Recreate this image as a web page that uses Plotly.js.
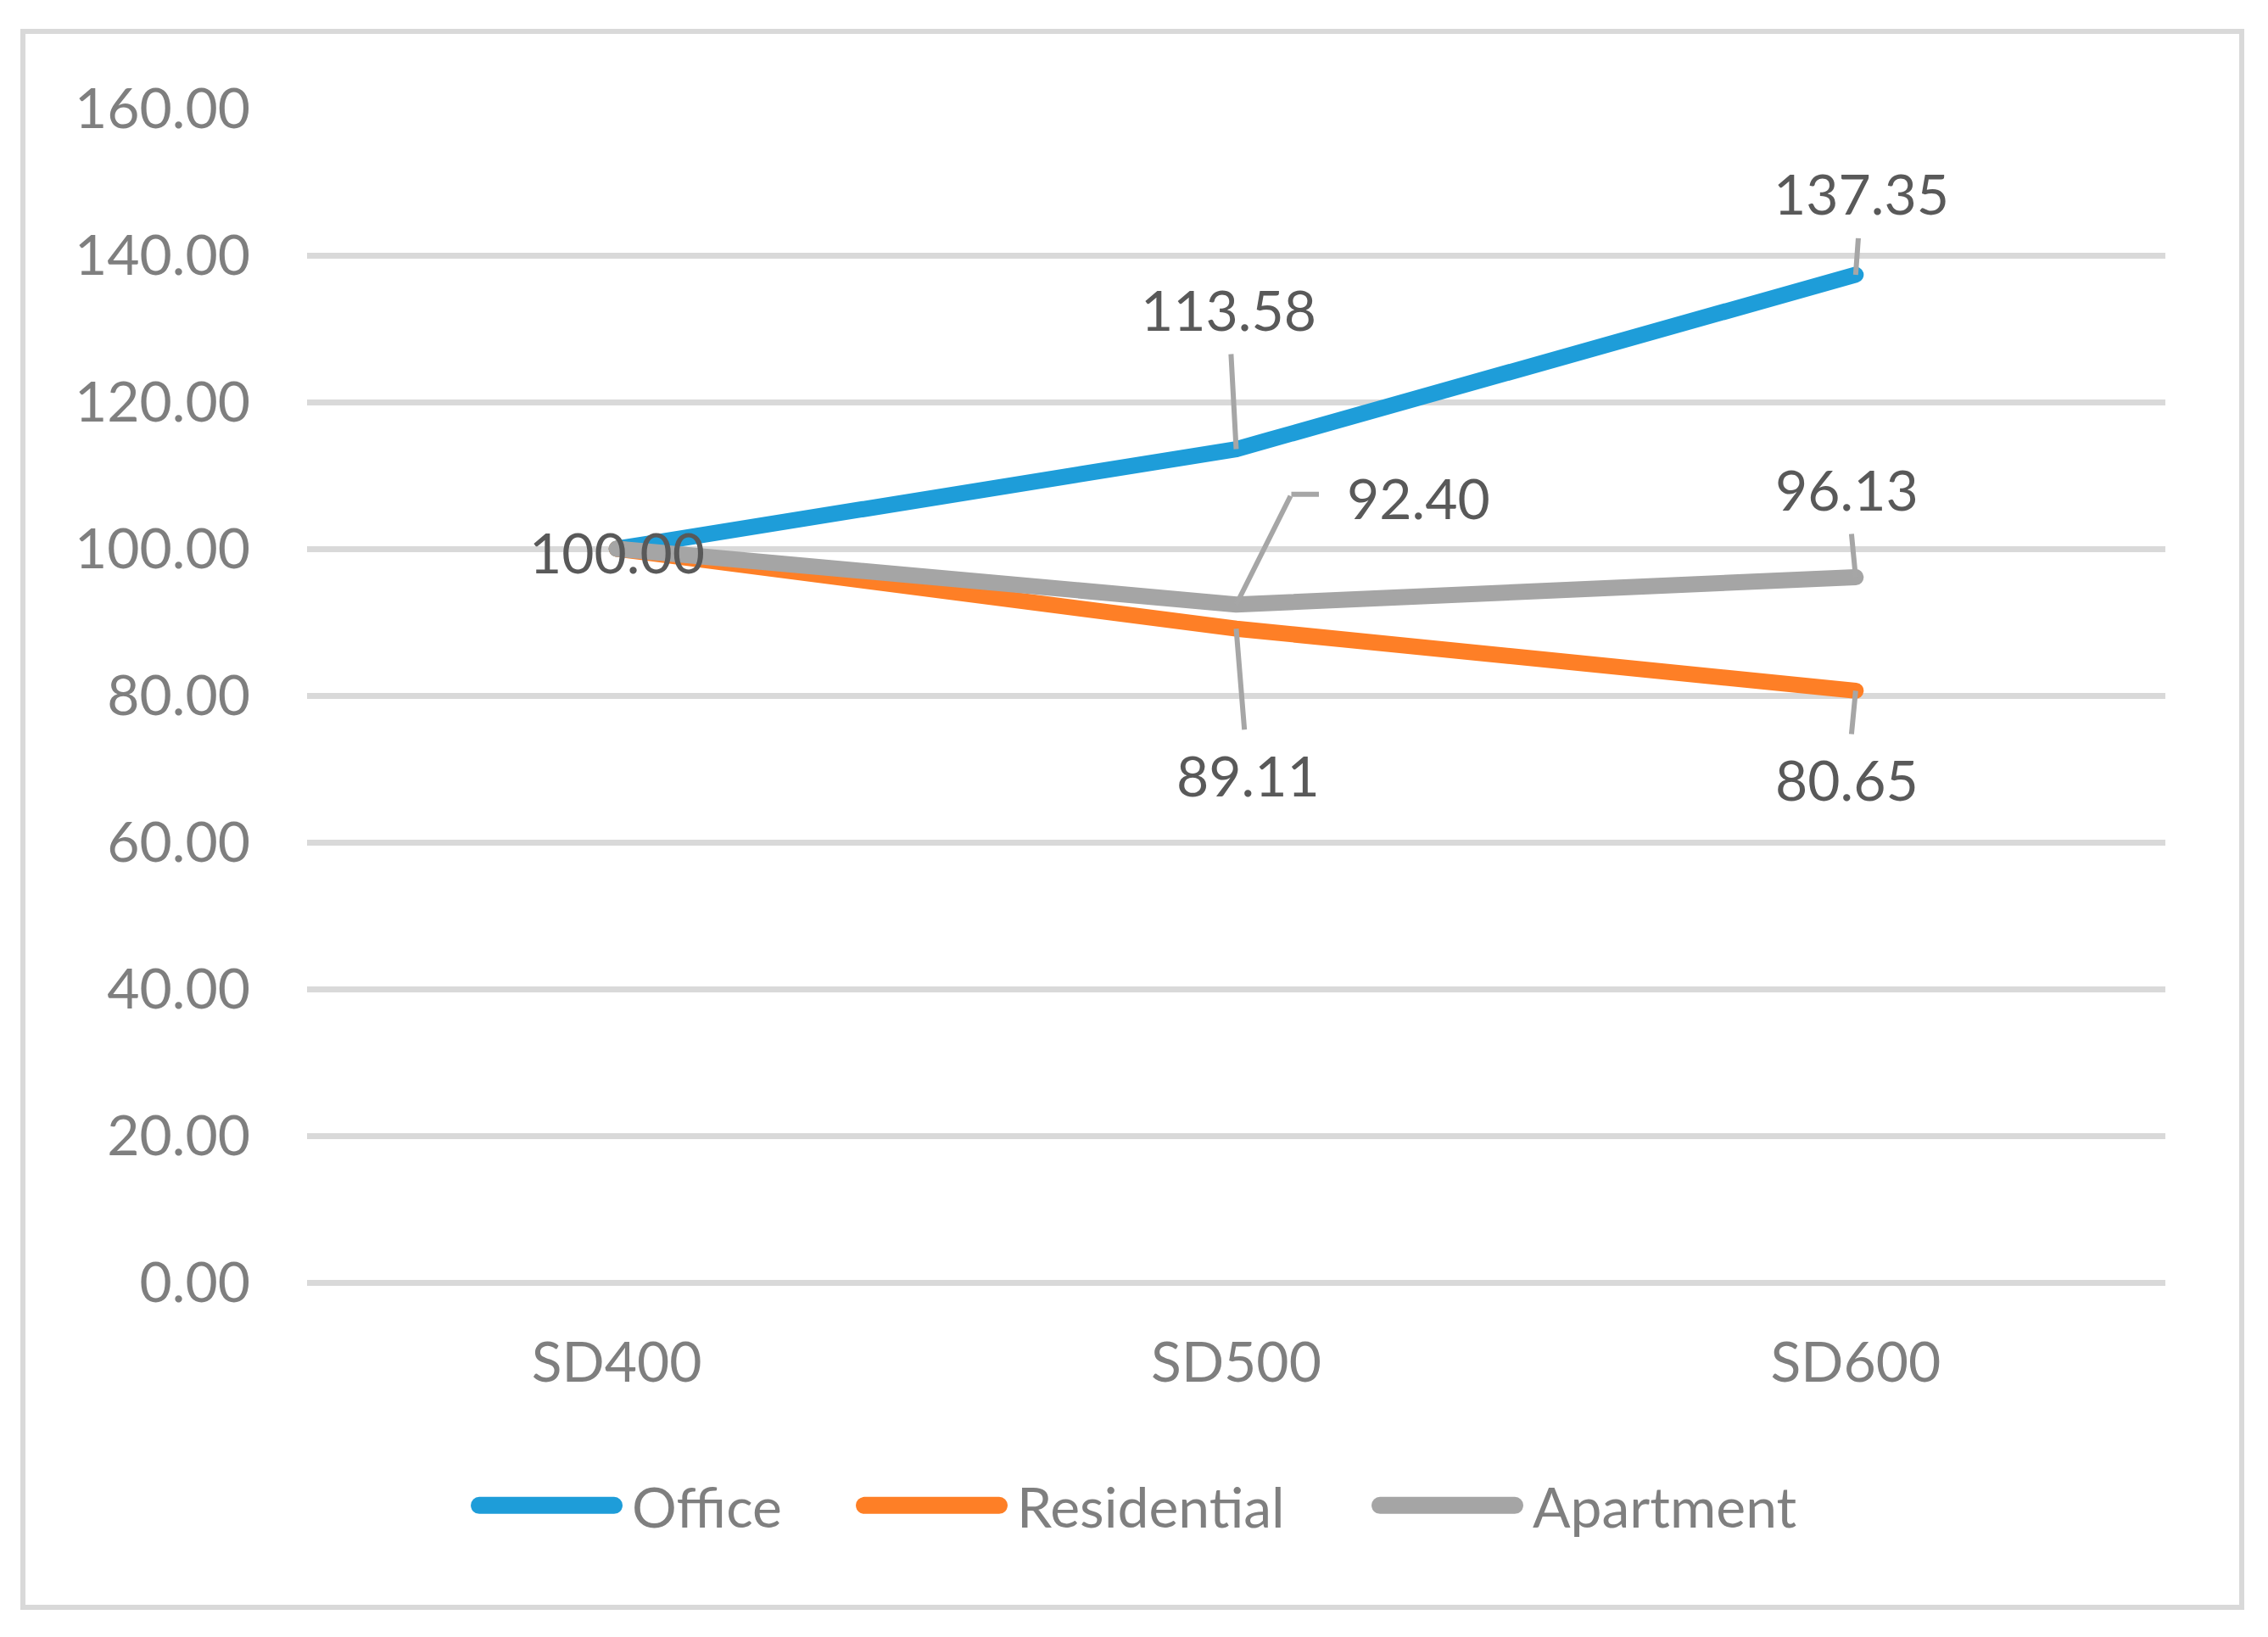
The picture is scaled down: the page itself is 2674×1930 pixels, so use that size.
<!DOCTYPE html>
<html>
<head>
<meta charset="utf-8">
<script src="https://cdn.plot.ly/plotly-3.0.1.min.js"></script>
<style>
  html, body { margin: 0; padding: 0; background: #fff; }
  #chart { width: 2674px; height: 1930px; }
  /* rounded line ends; legend strokes wider than Plotly allows */
  #chart .scatterlayer .js-line { stroke-linecap: round; stroke-linejoin: round; }
  #chart .legendlines path {
    d: path("M10,0h159");
    stroke-width: 20px !important;
    stroke-linecap: round;
  }
</style>
</head>
<body>
<div id="chart"></div>
<script>
// Datos del gráfico
const categories = ['SD400', 'SD500', 'SD600'];
const seriesNames = ['Office', 'Residential', 'Apartment'];
const office = [100.00, 113.58, 137.35];
const residential = [100.00, 89.11, 80.65];
const apartment = [100.00, 92.40, 96.13];
const yTicks = [0, 20, 40, 60, 80, 100, 120, 140, 160];

const seriesColors = ['#1e9dd9', '#fe7f26', '#a5a5a5'];
const fontFamily = 'Lato, "Open Sans", sans-serif';
const labelFont = {family: fontFamily, size: 66, color: '#595959'};
const axisFont = {family: fontFamily, size: 66, color: '#7f7f7f'};
const leaderColor = '#a6a6a6';

// Label offsets in px from the point to the label centre (null = no label)
const labelOffsets = [
    [{dx: 0, dy: 3, noArrow: true}, {dx: -9, dy: -165}, {dx: 7, dy: -96}],
    [null, {dx: 14, dy: 172}, {dx: -10, dy: 104}],
    [null, {dx: 215, dy: -126, elbow: [65, -130, 34]}, {dx: -10, dy: -104}]
];

function makeLabels(values, offsets) {
    const out = [];
    values.forEach(function(v, i) {
        const off = offsets[i];
        if (!off) return;
        const base = {
            x: categories[i], y: v, xref: 'x', yref: 'y',
            text: v.toFixed(2), font: labelFont
        };
        if (off.noArrow) {
            out.push(Object.assign({}, base, {showarrow: false, xshift: off.dx, yshift: -off.dy}));
        } else if (off.elbow) {
            // leader with a bend: text alone, then two plain segments
            out.push(Object.assign({}, base, {showarrow: false, xshift: off.dx, yshift: -off.dy}));
            const seg = {x: categories[i], y: v, xref: 'x', yref: 'y', text: ' ',
                font: {size: 1}, showarrow: true, arrowhead: 0,
                arrowwidth: 6, arrowcolor: leaderColor};
            out.push(Object.assign({}, seg, {ax: off.elbow[0], ay: off.elbow[1]}));
            out.push(Object.assign({}, seg, {xshift: off.elbow[0], yshift: -off.elbow[1],
                ax: off.elbow[2], ay: 0}));
        } else {
            out.push(Object.assign({}, base, {
                showarrow: true, arrowhead: 0, arrowwidth: 6, arrowcolor: leaderColor,
                ax: off.dx, ay: off.dy, startstandoff: 12
            }));
        }
    });
    return out;
}

const allValues = [office, residential, apartment];
const legendIds = ['legend', 'legend2', 'legend3'];

const data = allValues.map(function(vals, k) {
    return {
        type: 'scatter',
        mode: 'lines',
        x: categories,
        y: vals,
        name: seriesNames[k],
        legend: legendIds[k],
        line: {color: seriesColors[k], width: 19},
        hoverinfo: 'x+y+name'
    };
});

let annotations = [];
allValues.forEach(function(vals, k) {
    annotations = annotations.concat(makeLabels(vals, labelOffsets[k]));
});

function legendAt(x) {
    return {
        x: x, y: -0.19, xanchor: 'left', yanchor: 'middle',
        orientation: 'h', itemwidth: 180,
        bgcolor: 'rgba(0,0,0,0)', font: axisFont
    };
}

const layout = {
    width: 2674,
    height: 1930,
    paper_bgcolor: '#ffffff',
    plot_bgcolor: '#ffffff',
    margin: {l: 362, r: 121, t: 128, b: 418},
    xaxis: {
        type: 'category',
        range: [-0.5, 2.5],
        showgrid: false, zeroline: false, showline: false,
        ticks: '', ticklabelstandoff: 50,
        tickfont: axisFont
    },
    yaxis: {
        range: [0, 160],
        tickvals: yTicks,
        tickformat: '.2f',
        showgrid: true, gridcolor: '#d9d9d9', gridwidth: 7,
        zeroline: true, zerolinecolor: '#d9d9d9', zerolinewidth: 7,
        showline: false, ticks: '', ticklabelstandoff: 66,
        tickfont: axisFont
    },
    showlegend: true,
    legend: legendAt(0.0881),
    legend2: legendAt(0.2953),
    legend3: legendAt(0.5728),
    annotations: annotations,
    shapes: [{
        type: 'rect', xref: 'paper', yref: 'paper',
        x0: -0.1529, x1: 1.0411, y0: -0.2767, y1: 1.0658,
        line: {color: '#d9d9d9', width: 6}, layer: 'below'
    }]
};

Plotly.newPlot('chart', data, layout, {displayModeBar: false, responsive: false});
</script>
</body>
</html>
